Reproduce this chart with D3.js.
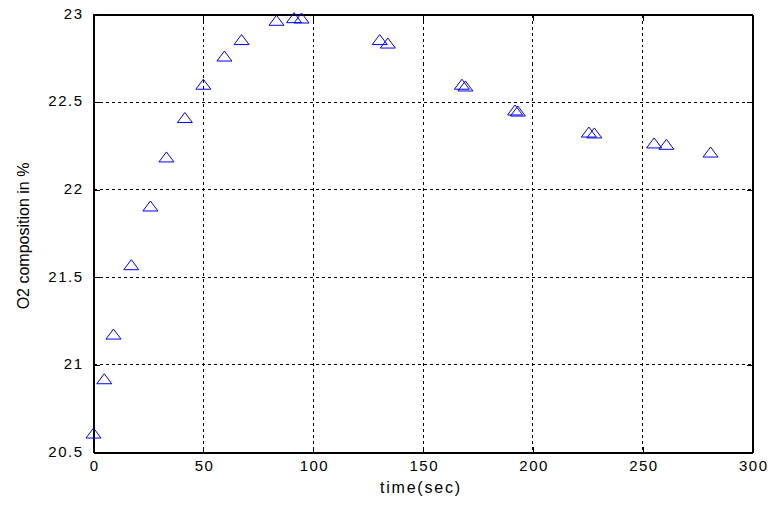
<!DOCTYPE html>
<html>
<head>
<meta charset="utf-8">
<script src="https://cdn.jsdelivr.net/npm/d3@7"></script>
<style>
  html, body { margin: 0; padding: 0; background: #fff; }
  svg { display: block; }
  text { font-family: Arial, "Liberation Sans", sans-serif; fill: #000; }
</style>
</head>
<body>
<svg id="chart" width="776" height="507"></svg>
<script>
// Data
const timeSec = [0, 4.9, 9.1, 17.2, 25.9, 33.2, 41.6, 50.0, 59.6, 67.4, 83.3, 91.3, 94.7,
                 130.3, 134.0, 167.7, 169.3, 191.9, 193.2, 225.5, 228.0, 255.2, 260.8, 280.9];
const o2Percent = [20.611, 20.921, 21.176, 21.572, 21.907, 22.187, 22.412, 22.602, 22.763,
                   22.857, 22.967, 22.982, 22.98, 22.857, 22.837, 22.602, 22.592, 22.455,
                   22.449, 22.329, 22.324, 22.267, 22.259, 22.215];
const xTicks = [0, 50, 100, 150, 200, 250, 300];
const yTicks = [20.5, 21, 21.5, 22, 22.5, 23];
const xLabel = "time(sec)";
const yLabel = "O2 composition in %";

const svg = d3.select("#chart");
const L = 93.5, R = 752.5, T = 14.5, B = 452.5;

const x = d3.scaleLinear().domain([0, 300]).range([L, R]);
const y = d3.scaleLinear().domain([20.5, 23]).range([B, T]);

// grid
const grid = svg.append("g").attr("stroke", "#000").attr("stroke-width", 1)
  .attr("stroke-dasharray", "3,3").attr("shape-rendering", "crispEdges");
grid.selectAll("line.gx").data(xTicks.slice(1, -1)).join("line")
  .attr("x1", d => x(d)).attr("x2", d => x(d)).attr("y1", T).attr("y2", B);
grid.selectAll("line.gy").data(yTicks.slice(1, -1)).join("line")
  .attr("class", "gy")
  .attr("x1", L).attr("x2", R).attr("y1", d => y(d)).attr("y2", d => y(d));

// axes with inward ticks
const tickLen = 6;
const xAxisB = d3.axisBottom(x).tickValues(xTicks).tickSizeInner(-tickLen).tickSizeOuter(0).tickPadding(8).tickFormat(d3.format("d"));
const xAxisT = d3.axisTop(x).tickValues(xTicks).tickSizeInner(-tickLen).tickSizeOuter(0).tickFormat("");
const yAxisL = d3.axisLeft(y).tickValues(yTicks).tickSizeInner(-tickLen).tickSizeOuter(0).tickPadding(10).tickFormat(d => d3.format("")(d));
const yAxisR = d3.axisRight(y).tickValues(yTicks).tickSizeInner(-tickLen).tickSizeOuter(0).tickFormat("");

function styleAxis(g) {
  g.attr("shape-rendering", "crispEdges");
  g.selectAll("path").attr("stroke", "#000");
  g.selectAll("line").attr("stroke", "#000");
  g.selectAll("text").attr("fill", "#000")
    .style("font-family", "Arial, 'Liberation Sans', sans-serif")
    .style("font-size", "15px").style("letter-spacing", "1.5px");
}

svg.append("g").attr("transform", `translate(0,${B})`).call(xAxisB).call(styleAxis)
  .selectAll("text").attr("dy", "0.71em").attr("dx", "0.75px");
svg.append("g").attr("transform", `translate(0,${T})`).call(xAxisT).call(styleAxis);
svg.append("g").attr("transform", `translate(${L},0)`).call(yAxisL).call(styleAxis)
  .selectAll("text").attr("dy", "0.25em");
svg.append("g").attr("transform", `translate(${R},0)`).call(yAxisR).call(styleAxis);

// box
svg.append("rect").attr("x", L).attr("y", T).attr("width", R - L).attr("height", B - T)
  .attr("fill", "none").attr("stroke", "#000").attr("shape-rendering", "crispEdges");

// markers (open triangles)
const tri = "M0,-5L7.5,5L-7.5,5Z";
svg.append("g").selectAll("path").data(timeSec.map((t, i) => [t, o2Percent[i]])).join("path")
  .attr("d", tri)
  .attr("transform", d => `translate(${x(d[0])},${y(d[1])})`)
  .attr("fill", "none").attr("stroke", "#0000ff").attr("stroke-width", 1);

// labels
svg.append("text").attr("x", 420).attr("y", 493)
  .attr("text-anchor", "middle").style("font-size", "16px")
  .attr("textLength", 80).attr("lengthAdjust", "spacing")
  .text(xLabel);
svg.append("text").attr("transform", "translate(29,236) rotate(-90)")
  .attr("text-anchor", "middle").style("font-size", "16px")
  .text(yLabel);
</script>
</body>
</html>
